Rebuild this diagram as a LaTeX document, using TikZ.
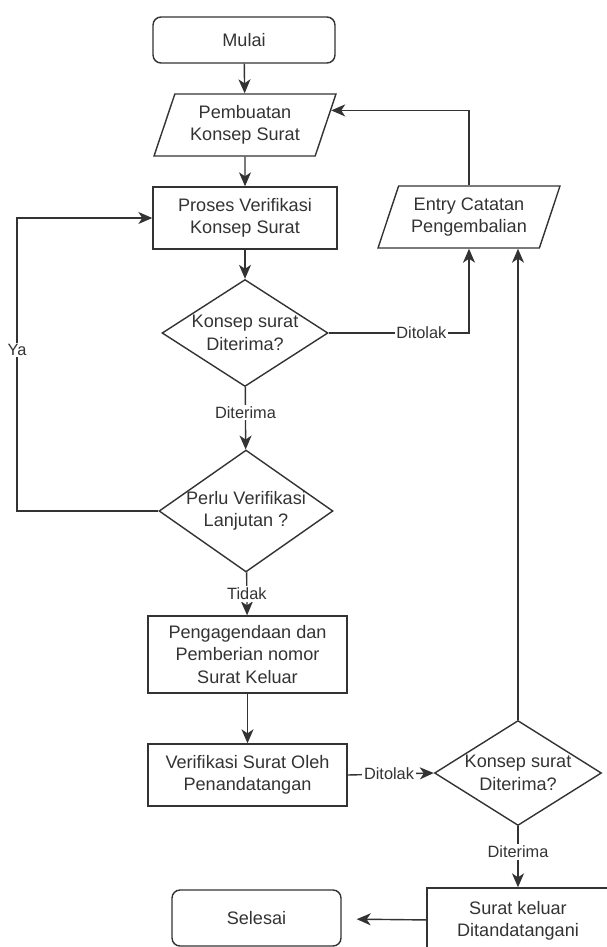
\documentclass[tikz,border=0pt]{standalone}
\usepackage{fontspec}
\setmainfont{Liberation Sans}
\usepackage{tikz}
\usetikzlibrary{arrows.meta, shapes.geometric, positioning, calc}

\begin{document}
\begin{tikzpicture}[x=0.02cm, y=-0.02cm,
    every node/.style={text=black!80, font=\fontsize{10.3}{12.7}\selectfont},
    startstop/.style={draw=black!80, thick, rounded corners=0.16cm, align=center},
    proc/.style={draw=black!80, thick, rectangle, align=center, inner sep=2pt},
    io/.style={draw=black!80, thick, trapezium, trapezium left angle=64, trapezium right angle=116,
        trapezium stretches body, align=center, inner sep=1pt},
    decision/.style={draw=black!80, thick, diamond, inner sep=-6pt, align=center},
    lbl/.style={fill=white, inner sep=1pt, font=\fontsize{9.3}{11}\selectfont},
    flow/.style={draw=black!80, thick, -{Stealth[length=2.8mm, width=2.4mm, inset=0.8mm]}}]
    \useasboundingbox (0,0) rectangle (606,947);

    % Main column
    \node[startstop, minimum width=3.64cm, minimum height=0.92cm] (mulai) at (244,40) {Mulai};
    \node[io, minimum width=3.64cm, minimum height=1.24cm] (buat) at (245,125) {Pembuatan\\Konsep Surat};
    \node[proc, minimum width=3.68cm, minimum height=1.24cm] (proses) at (245,218) {Proses Verifikasi\\Konsep Surat};
    \node[decision, shape aspect=1.55, minimum width=3.32cm, minimum height=2.14cm] (cek1) at (245,333) {Konsep surat\\Diterima?};
    \node[decision, shape aspect=1.43, minimum width=3.48cm, minimum height=2.44cm] (lanjut) at (246,511) {Perlu Verifikasi\\Lanjutan ?};
    \node[proc, minimum width=3.98cm, minimum height=1.54cm] (agenda) at (247.5,654.5) {Pengagendaan dan\\Pemberian nomor\\Surat Keluar};
    \node[proc, minimum width=3.98cm, minimum height=1.24cm] (ttd) at (247.5,775) {Verifikasi Surat Oleh\\Penandatangan};
    \node[startstop, minimum width=3.38cm, minimum height=1.12cm] (selesai) at (256.5,918) {Selesai};

    % Right column
    \node[io, minimum width=3.64cm, minimum height=1.24cm] (entry) at (469,217) {Entry Catatan\\Pengembalian};
    \node[decision, shape aspect=1.59, minimum width=3.34cm, minimum height=2.1cm] (cek2) at (518,773) {Konsep surat\\Diterima?};
    \node[proc, minimum width=3.64cm, minimum height=1.32cm] (keluar) at (518,921) {Surat keluar\\Ditandatangani};

    \coordinate (ya) at (17,350);

    % Connectors
    \draw[flow] (mulai) -- (buat);
    \draw[flow] (buat) -- (proses);
    \draw[flow] (proses) -- (cek1);
    \draw[flow] (cek1) -- node[lbl, pos=0.41] {Diterima} (lanjut);
    \draw[flow] (lanjut) -- node[lbl, pos=0.5] {Tidak} (agenda);
    \draw[flow] (agenda) -- (ttd);
    \draw[flow] (lanjut.west) -| (ya) node[lbl] {Ya} |- (proses.west);
    \draw[flow] (cek1.east) -| node[lbl, pos=0.33] {Ditolak} (entry.south);
    \draw[flow] (entry.north) |- ($(buat.top right corner)!0.27!(buat.bottom right corner)$);
    \draw[flow] (ttd.east) -- node[lbl, pos=0.48] {Ditolak} (cek2.west);
    \draw[flow] (cek2.north) -- (cek2.north |- entry.south);
    \draw[flow] (cek2) -- node[lbl, pos=0.42] {Diterima} (keluar);
    \draw[flow, shorten >=0.3cm] (keluar) -- (selesai);
\end{tikzpicture}
\end{document}
